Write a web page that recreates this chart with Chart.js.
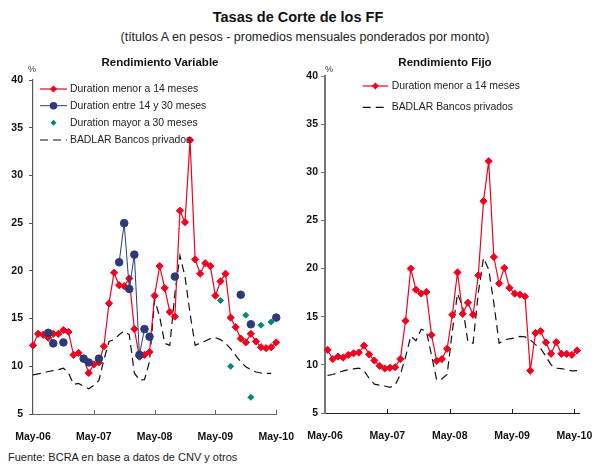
<!DOCTYPE html>
<html>
<head>
    <meta charset="utf-8" />
    <title>Tasas de Corte de los FF</title>
    <style>
        body {
            margin: 0;
            background: #fff;
            font-family: 'Liberation Sans', Arial, sans-serif;
        }

        #wrap {
            position: relative;
            width: 597px;
            height: 467px;
            overflow: hidden;
        }

        canvas {
            position: absolute;
        }

        .txt {
            position: absolute;
            white-space: nowrap;
            color: #111;
            transform: translate(-50%, -50%);
        }
    </style>
</head>
<body>
    <div id="wrap">
        <canvas id="chartVar" width="296" height="400" style="left:0;top:50px"></canvas>
        <canvas id="chartFijo" width="302" height="400" style="left:295px;top:50px"></canvas>

        <div class="txt" style="left:298px;top:17px;font-size:14.5px;font-weight:bold">Tasas de Corte de los FF</div>
        <div class="txt" style="left:305px;top:37px;font-size:12.5px;color:#222">(títulos A en pesos - promedios mensuales ponderados por monto)</div>
        <div class="txt" style="left:160px;top:62px;font-size:11.5px;font-weight:bold">Rendimiento Variable</div>
        <div class="txt" style="left:445px;top:62px;font-size:11.5px;font-weight:bold">Rendimiento Fijo</div>
        <div class="txt" style="left:32px;top:69px;font-size:9px;color:#333">%</div>
        <div class="txt" style="left:329px;top:69px;font-size:9px;color:#333">%</div>
        <div class="txt" style="left:8px;top:457px;font-size:11px;color:#222;transform:translate(0,-50%)">Fuente: BCRA en base a datos de CNV y otros</div>
    </div>

    <script src="https://cdn.jsdelivr.net/npm/chart.js"></script>
    <script>
        // meses, may-06 a may-10
        const months = ['May-06', 'Jun-06', 'Jul-06', 'Ago-06', 'Sep-06', 'Oct-06', 'Nov-06', 'Dic-06',
            'Ene-07', 'Feb-07', 'Mar-07', 'Abr-07', 'May-07', 'Jun-07', 'Jul-07', 'Ago-07', 'Sep-07', 'Oct-07', 'Nov-07', 'Dic-07',
            'Ene-08', 'Feb-08', 'Mar-08', 'Abr-08', 'May-08', 'Jun-08', 'Jul-08', 'Ago-08', 'Sep-08', 'Oct-08', 'Nov-08', 'Dic-08',
            'Ene-09', 'Feb-09', 'Mar-09', 'Abr-09', 'May-09', 'Jun-09', 'Jul-09', 'Ago-09', 'Sep-09', 'Oct-09', 'Nov-09', 'Dic-09',
            'Ene-10', 'Feb-10', 'Mar-10', 'Abr-10', 'May-10'];
        const xTickLabels = ['May-06', 'May-07', 'May-08', 'May-09', 'May-10'];
        const yTicks = [5, 10, 15, 20, 25, 30, 35, 40];

        // Rendimiento Variable
        const varMenor14 = [12.2, 13.4, 13.3, 13.0, 13.4, 13.4, 13.8, 13.6, 11.2, 11.4, 10.8, 9.3, 10.2, 10.4, 12.1, 16.6,
            19.8, 18.5, 18.4, 19.2, 13.9, 11.0, 11.2, 11.5, 17.4, 20.5, 18.2, 15.7, 15.2, 26.3, 25.1, 33.7,
            21.2, 19.7, 20.8, 20.5, 17.4, 18.9, 19.7, 15.1, 14.1, 12.9, 12.5, 13.4, 12.6, 12.0, 11.9, 12.0, 12.5];
        const varEntre14y30 = [null, null, null, 13.5, 12.4, null, 12.5, null, null, null, 10.8, 10.4, null, 10.8, null, null,
            null, 20.9, 25.0, 18.1, 21.7, 11.2, 13.9, 13.1, null, null, null, null, 19.4, null, null, null,
            null, null, null, null, null, null, null, null, null, 17.5, null, 14.4, null, null, null, null, 15.1];
        const varMayor30 = [null, null, null, null, null, null, null, null, null, null, null, null, null, null, null, null,
            null, null, null, null, null, null, null, null, null, null, null, null, null, null, null, null,
            null, null, null, null, null, 16.9, null, 10.0, null, null, 15.35, 6.75, null, 14.3, null, 14.65, null];
        const varBadlar = [9.1, 9.2, 9.3, 9.45, 9.55, 9.65, 9.8, 9.3, 8.1, 8.2, 7.9, 7.65, 8.0, 8.5, 10.7, 12.6,
            12.8, 13.3, 13.7, 13.3, 9.3, 8.55, 8.6, 10.5, 17.0, 15.2, 12.4, 12.2, 17.6, 21.6, 19.4, 15.5,
            12.2, 12.45, 12.65, 12.9, 13.0, 12.8, 12.4, 11.85, 11.15, 10.45, 9.95, 9.65, 9.4, 9.3, 9.25, 9.25, null];

        // Rendimiento Fijo
        const fijoMenor14 = [11.56, 10.6, 10.87, 10.76, 11.04, 11.2, 11.28, 11.98, 11.08, 10.45, 9.9, 9.62, 9.69, 9.76, 10.6, 14.58,
            20.0, 17.8, 17.4, 17.57, 13.1, 10.42, 10.6, 11.67, 15.2, 19.6, 15.3, 16.45, 15.2, 19.3, 27.0, 31.15,
            21.2, 18.45, 20.07, 18.0, 17.4, 17.3, 17.1, 9.4, 13.3, 13.5, 12.33, 11.15, 12.36, 11.15, 11.15, 11.04, 11.5];
        const fijoBadlar = [8.9, 9.0, 9.17, 9.37, 9.5, 9.58, 9.65, 9.4, 8.6, 8.0, 7.9, 7.8, 7.67, 7.9, 9.0, 10.8,
            13.0, 12.5, 13.7, 13.5, 11.0, 8.4, 8.55, 9.0, 13.5, 17.4, 16.0, 12.4, 12.25, 17.5, 21.1, 19.9,
            16.4, 12.25, 12.6, 12.7, 12.8, 12.95, 12.9, 12.6, 12.1, 11.7, 10.9, 10.0, 9.65, 9.6, 9.5, 9.38, 9.4];

        const RED = '#f2001e';
        const NAVY = '#2c3a78';
        const TEAL = '#00877f';

        function redSet(data) {
            return {
                label: 'Duration menor a 14 meses', data: data, order: 2,
                borderColor: RED, borderWidth: 1.2, backgroundColor: RED,
                pointStyle: 'rectRot', pointRadius: 3.6, pointBackgroundColor: RED, pointBorderColor: RED, pointBorderWidth: 1
            };
        }
        function badlarSet(data) {
            return {
                label: 'BADLAR Bancos privados', data: data, order: 3,
                borderColor: '#111', borderWidth: 1.2, borderDash: [8, 5], pointRadius: 0
            };
        }

        // leyenda dentro del grafico
        const insideLegend = {
            id: 'insideLegend',
            afterDraw(chart, args, opts) {
                const ctx = chart.ctx;
                ctx.save();
                ctx.font = '10.4px "Liberation Sans"';
                ctx.textBaseline = 'middle';
                chart.data.datasets.forEach((ds, k) => {
                    const y = opts.rows[k];
                    const xm = (opts.x0 + opts.x1) / 2;
                    if (ds.showLine !== false) {
                        ctx.strokeStyle = ds.borderColor;
                        ctx.lineWidth = ds.borderWidth;
                        ctx.setLineDash(ds.borderDash || []);
                        ctx.beginPath();
                        ctx.moveTo(opts.x0, y);
                        ctx.lineTo(opts.x1, y);
                        ctx.stroke();
                        ctx.setLineDash([]);
                    }
                    if (ds.pointRadius > 0) {
                        const r = ds.pointRadius;
                        ctx.fillStyle = ds.pointBackgroundColor;
                        ctx.beginPath();
                        if (ds.pointStyle === 'circle') {
                            ctx.arc(xm, y, r, 0, Math.PI * 2);
                        } else {
                            ctx.moveTo(xm, y - r); ctx.lineTo(xm + r, y); ctx.lineTo(xm, y + r); ctx.lineTo(xm - r, y);
                            ctx.closePath();
                        }
                        ctx.fill();
                    }
                    ctx.fillStyle = '#222';
                    ctx.fillText(ds.label, opts.tx, y);
                });
                ctx.restore();
            }
        };

        // marcas del eje x hacia adentro
        const xTickMarks = {
            id: 'xTickMarks',
            afterDraw(chart, args, opts) {
                const xs = chart.scales.x;
                const ctx = chart.ctx;
                const bottom = chart.chartArea.bottom;
                const half = opts.between ? (xs.getPixelForValue(1) - xs.getPixelForValue(0)) / 2 : 0;
                ctx.save();
                ctx.strokeStyle = opts.color;
                ctx.lineWidth = 1;
                xTickLabels.forEach(lbl => {
                    const i = months.indexOf(lbl);
                    if (i === 0) return;
                    const x = Math.round(xs.getPixelForValue(i) - half) + 0.5;
                    ctx.beginPath();
                    ctx.moveTo(x, bottom);
                    ctx.lineTo(x, bottom - 4);
                    ctx.stroke();
                });
                ctx.restore();
            }
        };

        function makeChart(id, datasets, p) {
            return new Chart(document.getElementById(id), {
                type: 'line',
                data: { labels: months, datasets: datasets },
                plugins: [insideLegend, xTickMarks],
                options: {
                    responsive: false,
                    devicePixelRatio: 1,
                    animation: false,
                    spanGaps: false,
                    layout: { padding: { top: p.top, right: p.right, left: 0, bottom: 0 } },
                    plugins: {
                        legend: { display: false },
                        tooltip: { enabled: false },
                        insideLegend: p.legend,
                        xTickMarks: { between: p.offset, color: p.xAxisColor }
                    },
                    scales: {
                        x: {
                            offset: p.offset,
                            grid: { display: true, drawOnChartArea: false, drawTicks: true, tickLength: 15, tickColor: 'rgba(0,0,0,0)' },
                            border: { display: true, color: p.xAxisColor, width: 1 },
                            afterFit: s => { s.height = p.xHeight; },
                            ticks: {
                                autoSkip: false, maxRotation: 0, minRotation: 0,
                                padding: 2, labelOffset: p.offset ? -2.6 : 0,
                                color: '#111',
                                font: { family: 'Liberation Sans', size: 10.5, weight: 'bold' },
                                callback: (v, i) => xTickLabels.includes(months[i]) ? months[i] : null
                            }
                        },
                        y: {
                            min: yTicks[0], max: yTicks[yTicks.length - 1],
                            afterFit: s => { s.width = p.yWidth; },
                            afterBuildTicks: s => { s.ticks = yTicks.map(v => ({ value: v })); },
                            grid: { drawOnChartArea: false, drawTicks: true, tickLength: 4, color: p.yAxisColor },
                            border: { display: true, color: p.yAxisColor, width: p.yAxisWidth },
                            ticks: {
                                padding: p.yPad,
                                color: '#111',
                                font: { family: 'Liberation Sans', size: 10.5, weight: 'bold' }
                            }
                        }
                    }
                }
            });
        }

        makeChart('chartVar', [
            redSet(varMenor14),
            {
                label: 'Duration entre 14 y 30 meses', data: varEntre14y30, order: 1,
                borderColor: NAVY, borderWidth: 1, backgroundColor: NAVY,
                pointStyle: 'circle', pointRadius: 3.8, pointBackgroundColor: NAVY, pointBorderColor: NAVY
            },
            {
                label: 'Duration mayor a 30 meses', data: varMayor30, order: 0, showLine: false,
                borderColor: TEAL, backgroundColor: TEAL,
                pointStyle: 'rectRot', pointRadius: 3, pointBackgroundColor: TEAL, pointBorderColor: TEAL
            },
            badlarSet(varBadlar)
        ], {
            top: 30, right: 18, offset: false, xHeight: 36, yWidth: 33, yPad: 6,
            xAxisColor: '#666', yAxisColor: '#555', yAxisWidth: 1.2,
            legend: { rows: [39, 55.7, 72.7, 90], x0: 40, x1: 67, tx: 70 }
        });

        makeChart('chartFijo', [
            redSet(fijoMenor14),
            badlarSet(fijoBadlar)
        ], {
            top: 26, right: 17, offset: true, xHeight: 37, yWidth: 30, yPad: 3,
            xAxisColor: '#222', yAxisColor: '#777', yAxisWidth: 2,
            legend: { rows: [36, 57.3], x0: 67.7, x1: 93, tx: 96.7 }
        });
    </script>
</body>
</html>
